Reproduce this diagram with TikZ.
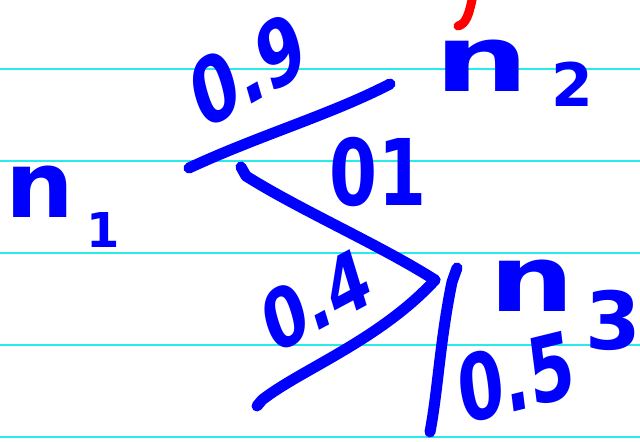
\documentclass[tikz,border=0pt]{standalone}
\usepackage{fontspec}
\setmainfont{DejaVu Sans}
\definecolor{ink}{RGB}{0,0,255}
\definecolor{rule}{RGB}{40,235,235}
\definecolor{redink}{RGB}{255,0,0}
\begin{document}
\begin{tikzpicture}[x=0.5pt,y=-0.5pt,
  stroke/.style={draw=ink,line width=5.5pt,line cap=round,line join=round},
  paperline/.style={draw=rule,line width=1pt},
  hand/.style={text=ink,inner sep=0pt,font=\bfseries\fontsize{46}{46}\selectfont},
  handsub/.style={text=ink,inner sep=0pt,font=\bfseries\fontsize{30}{30}\selectfont}]
\useasboundingbox[fill=white] (0,0) rectangle (640,442);
% ruled paper
\foreach \y in {69,161,253,345,437} \draw[paperline] (0,\y) -- (640,\y);
% red stroke
\draw[draw=redink,line width=4.5pt,line cap=round] (473,-5) .. controls (469,15) and (466,24) .. (458,26);
% coordinates
\coordinate (a) at (189,168);
\coordinate (b) at (390,84);
\coordinate (c) at (241,167);
\coordinate (j) at (435,280);
\coordinate (d) at (257,406);
\coordinate (e) at (457,268);
\coordinate (f) at (430,432);
% branches
\draw[stroke] (a) .. controls (260,135) and (330,115) .. (b);
\draw[stroke] (c) -- (246,176) .. controls (300,210) and (380,245) .. (j);
\draw[stroke] (j) .. controls (380,340) and (300,370) .. (262,400) -- (d);
\draw[stroke] (e) -- (452,282) .. controls (440,340) and (438,390) .. (f);
% labels
\node[hand,xscale=1.05] (n1) at (40,192) {n};
\node[handsub,font=\bfseries\fontsize{24}{24}\selectfont] (n1s) at (103,230) {1};
\node[hand,xscale=0.72,rotate=22] (l09) at (248,70) {0.9};
\node[hand,xscale=1.45] (n2) at (482,66) {n};
\node[handsub] (n2s) at (572,84) {2};
\node[hand,xscale=0.75] (l01) at (378,172) {01};
\node[hand,xscale=0.68,yscale=0.9,rotate=22] (l04) at (316,300) {0.4};
\node[hand,xscale=1.3] (n3) at (532,286) {n};
\node[handsub,font=\bfseries\fontsize{40}{40}\selectfont] (n3s) at (613,320) {3};
\node[hand,xscale=0.72,rotate=10] (l05) at (516,377) {0.5};
\end{tikzpicture}
\end{document}
